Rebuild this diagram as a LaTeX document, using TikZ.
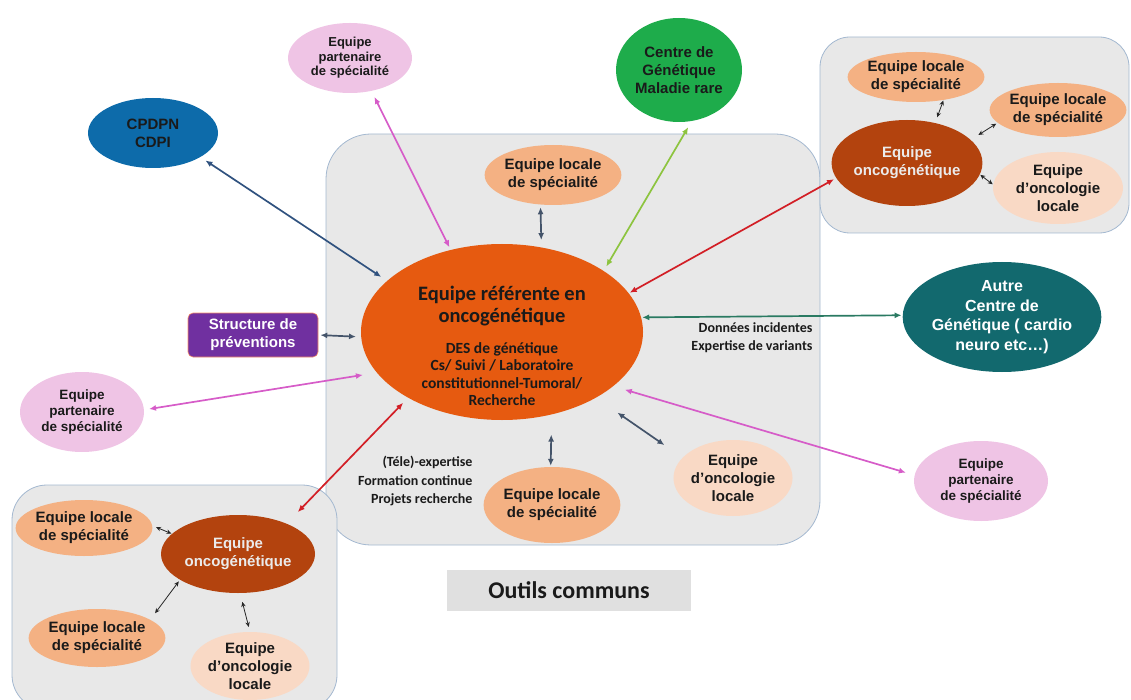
\documentclass[tikz,border=0pt]{standalone}
\usepackage{fontspec}
\setmainfont{Liberation Sans}
\newfontfamily\calfont{Carlito}
\usetikzlibrary{shapes.geometric,arrows.meta}
\definecolor{cBox}{HTML}{E8E8E8}
\definecolor{cBoxLine}{HTML}{A3B8D0}
\definecolor{cOrange}{HTML}{E65A10}
\definecolor{cLocal}{HTML}{F4B183}
\definecolor{cOnco}{HTML}{F9D9C5}
\definecolor{cPart}{HTML}{EFC4E5}
\definecolor{cBlue}{HTML}{0D6BAA}
\definecolor{cGreen}{HTML}{1EAC4B}
\definecolor{cTeal}{HTML}{12696E}
\definecolor{cPurple}{HTML}{7030A0}
\definecolor{cBrown}{HTML}{B3430E}
\definecolor{cTools}{HTML}{E0E0E0}
\definecolor{cText}{HTML}{1A1A1A}
\definecolor{aSlate}{HTML}{44546A}
\definecolor{aNavy}{HTML}{30527F}
\definecolor{aPink}{HTML}{D65CC8}
\definecolor{aGreen}{HTML}{8DC43F}
\definecolor{aRed}{HTML}{D21F26}
\definecolor{aTeal}{HTML}{2A7A62}
\tikzset{
  ell/.style={ellipse, inner sep=0pt, align=center, text=cText,
    font=\bfseries\fontsize{15}{18}\selectfont},
  smallell/.style={ell, font=\bfseries\fontsize{13}{14.5}\selectfont},
  panel/.style={draw=cBoxLine, fill=cBox, line width=0.8pt, inner sep=0pt},
  arr/.style={line width=1.7pt, {Latex[length=7pt,width=6pt]}-{Latex[length=7pt,width=6pt]}},
  sarr/.style={line width=0.8pt, draw=black!85, {Stealth[length=5pt,width=4.5pt]}-{Stealth[length=5pt,width=4.5pt]}},
  caltext/.style={text=cText, font=\calfont\bfseries\fontsize{14}{18.5}\selectfont}
}
\begin{document}
\begin{tikzpicture}[x=1pt,y=-1pt]
\useasboundingbox (0,0) rectangle (1131,700);
\clip (0,0) rectangle (1131,700);
% panels
\node[panel, rounded corners=45pt, minimum width=494, minimum height=411] (mainbox) at (573,339.5) {};
\node[panel, rounded corners=35pt, minimum width=325, minimum height=225] (blbox) at (174.5,597.5) {};
\node[panel, rounded corners=30pt, minimum width=309, minimum height=196] (trbox) at (974.5,135) {};
% central node
\node[ellipse, fill=cOrange, minimum width=282, minimum height=176, inner sep=0pt] (C) at (502,332) {};
\node[align=center, text=cText, font=\calfont\bfseries\fontsize{20.5}{22}\selectfont] (Ctitle) at (502,306) {Equipe référente en\\oncogénétique};
\node[align=center, text=cText, font=\calfont\bfseries\fontsize{15.5}{17.5}\selectfont] (Csub) at (502,374) {DES de génétique\\Cs/ Suivi / Laboratoire\\constitutionnel-Tumoral/\\Recherche};
% outer nodes
\node[ell, fill=cBlue, minimum width=130, minimum height=70] (CP) at (153,133) {CPDPN\\CDPI};
\node[smallell, fill=cPart, minimum width=124, minimum height=70] (P1) at (350,58) {Equipe\\partenaire\\de spécialité};
\node[ell, fill=cGreen, minimum width=126, minimum height=104] (G) at (679,70) {Centre de\\Génétique\\Maladie rare};
\node[ell, fill=cLocal, minimum width=134, minimum height=60] (L1) at (553,175) {Equipe locale\\de spécialité};
\node[ell, fill=cTeal, text=white, minimum width=192, minimum height=110, font=\bfseries\fontsize{16}{19.5}\selectfont] (A) at (1002,317) {Autre\\Centre de\\Génétique ( cardio\\neuro etc…)};
\node[draw=cLocal!80!red, line width=0.6pt, fill=cPurple, rounded corners=5pt, minimum width=130, minimum height=44, inner sep=0pt, align=center, text=white, font=\bfseries\fontsize{15}{18}\selectfont] (S) at (253,335) {Structure de\\préventions};
\node[smallell, fill=cPart, minimum width=124, minimum height=80, font=\bfseries\fontsize{13.5}{16}\selectfont] (P2) at (82,412) {Equipe\\partenaire\\de spécialité};
\node[ell, fill=cLocal, minimum width=124, minimum height=76] (L2) at (552,505) {Equipe locale\\de spécialité};
\node[ell, fill=cOnco, minimum width=114, minimum height=76] (D) at (733,478) {Equipe\\d'oncologie\\locale};
\node[smallell, fill=cPart, minimum width=134, minimum height=80, font=\bfseries\fontsize{13.5}{16}\selectfont] (P3) at (981,481) {Equipe\\partenaire\\de spécialité};
% top-right panel
\node[ell, fill=cLocal, minimum width=128, minimum height=50] (T1) at (916,77) {Equipe locale\\de spécialité};
\node[ell, fill=cLocal, minimum width=132, minimum height=54] (T2) at (1058,110) {Equipe locale\\de spécialité};
\node[ell, fill=cBrown, text=white!92!black, minimum width=148, minimum height=86] (O1) at (907,163) {Equipe\\oncogénétique};
\node[ell, fill=cOnco, minimum width=130, minimum height=72] (T3) at (1058,188) {Equipe\\d'oncologie\\locale};
% bottom-left panel
\node[ell, fill=cLocal, minimum width=128, minimum height=56] (B1) at (84,528) {Equipe locale\\de spécialité};
\node[ell, fill=cBrown, text=white!92!black, minimum width=154, minimum height=78] (O2) at (238,554) {Equipe\\oncogénétique};
\node[ell, fill=cLocal, minimum width=134, minimum height=58] (B2) at (97,638) {Equipe locale\\de spécialité};
\node[ell, fill=cOnco, minimum width=116, minimum height=68] (B3) at (250,666) {Equipe\\d'oncologie\\locale};
% texts
\node[caltext, align=right, anchor=east] (dtext) at (816,337.5) {Données incidentes\\Expertise de variants};
\node[caltext, align=right, anchor=east] (ftext) at (476,481) {(Téle)-expertise\\Formation continue\\Projets recherche};
\node[fill=cTools, minimum width=244, minimum height=41, inner sep=0pt, text=cText, font=\calfont\bfseries\fontsize{24}{26}\selectfont] (tools) at (569,590.5) {Outils communs};
% main arrows
\draw[arr, aNavy, shorten <=6pt, shorten >=7pt] (CP.-27.4) -- (C.156.1);
\draw[arr, aPink, shorten <=6.6pt, shorten >=2.8pt] (P1.-57) -- (C.122.7);
\draw[arr, aSlate, shorten <=2.6pt, shorten >=7.3pt] (L1.-113.9) -- (C.65.8);
\draw[arr, aGreen, shorten <=7pt, shorten >=5pt] (G.-76.2) -- (C.31.4);
\draw[arr, aRed, shorten <=2.4pt, shorten >=1pt] (O1.-168.2) -- (C.17.6);
\draw[arr, aTeal, shorten <=1pt, shorten >=1pt] (A.179.4) -- (C.6.6);
\draw[arr, aSlate, shorten <=2pt, shorten >=5pt] (S.east) -- (C.-178.8);
\draw[arr, aPink, shorten <=5pt, shorten >=14pt] (P2.2) -- (C.-162.9);
\draw[arr, aPink, shorten <=9pt, shorten >=12pt] (P3.175.5) -- (C.-26.4);
\draw[arr, aSlate, shorten <=22pt, shorten >=26pt] (D.158.9) -- (C.-35.2);
\draw[arr, aSlate, shorten <=1pt, shorten >=20pt] (L2.92) -- (C.-59.9);
\draw[arr, aRed, shorten <=16pt, shorten >=7pt] (O2.32.2) -- (C.-145);
% small arrows
\draw[sarr, shorten <=0.5pt, shorten >=6pt] (T1.-40.4) -- (O1.55.4);
\draw[sarr, shorten <=1.6pt, shorten >=9pt] (T2.-168.9) -- (O1.20.1);
\draw[sarr, shorten <=0.5pt, shorten >=0.5pt] (T3.177.4) -- (O1.-9.6);
\draw[sarr, shorten <=4pt, shorten >=0.5pt] (B1.2.5) -- (O2.163.9);
\draw[sarr, shorten <=8pt, shorten >=2pt] (B2.19.3) -- (O2.-156.9);
\draw[sarr, shorten <=5pt, shorten >=9pt] (B3.90) -- (O2.-87.6);
\end{tikzpicture}
\end{document}
